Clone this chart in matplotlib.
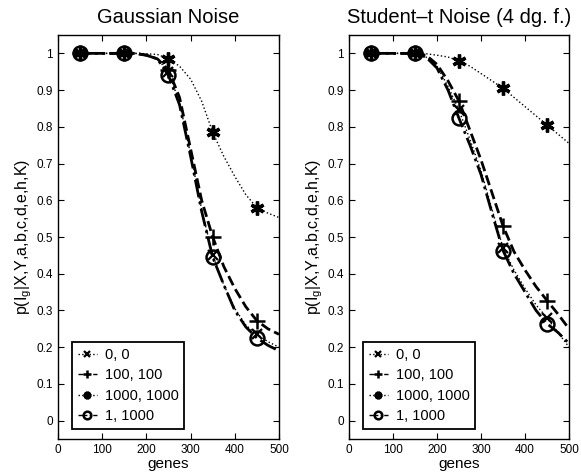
import numpy as np
import matplotlib
matplotlib.use("Agg")
import matplotlib.pyplot as plt

plt.rcParams['font.family'] = ['Liberation Sans', 'DejaVu Sans']
plt.rcParams['mathtext.fontset'] = 'custom'
plt.rcParams['mathtext.rm'] = 'Liberation Sans'

# number of genes (curve samples), markers every 100 genes starting at 50
genes = [50, 75, 100, 125, 150, 175, 200, 225, 250, 275, 300, 325, 350, 375, 400, 425, 450, 475, 500]

# Gaussian noise panel
gauss_0_0 = [1, 1, 1, 1, 1, 1, 0.995, 0.985, 0.95, 0.865, 0.725, 0.575, 0.45, 0.37, 0.305, 0.26, 0.235, 0.215, 0.2]
gauss_100_100 = [1, 1, 1, 1, 1, 1, 0.995, 0.985, 0.955, 0.88, 0.74, 0.6, 0.5, 0.42, 0.36, 0.31, 0.272, 0.25, 0.235]
gauss_1000_1000 = [1, 1, 1, 1, 1, 1, 0.999, 0.997, 0.985, 0.965, 0.93, 0.87, 0.785, 0.72, 0.665, 0.615, 0.58, 0.565, 0.553]
gauss_1_1000 = [1, 1, 1, 1, 1, 1, 0.995, 0.985, 0.94, 0.86, 0.72, 0.57, 0.445, 0.37, 0.3, 0.255, 0.225, 0.205, 0.19]

# Student-t noise panel
stud_0_0 = [1, 1, 1, 1, 1, 0.99, 0.965, 0.91, 0.845, 0.765, 0.68, 0.575, 0.47, 0.41, 0.36, 0.315, 0.28, 0.24, 0.2]
stud_100_100 = [1, 1, 1, 1, 1, 0.995, 0.97, 0.925, 0.87, 0.79, 0.71, 0.62, 0.53, 0.46, 0.41, 0.365, 0.327, 0.29, 0.25]
stud_1000_1000 = [1, 1, 1, 1, 1, 0.999, 0.995, 0.99, 0.98, 0.965, 0.945, 0.925, 0.905, 0.88, 0.855, 0.83, 0.805, 0.78, 0.755]
stud_1_1000 = [1, 1, 1, 1, 1, 0.99, 0.96, 0.9, 0.823, 0.75, 0.67, 0.565, 0.463, 0.4, 0.35, 0.3, 0.264, 0.24, 0.21]

legend_labels = ['0, 0', '100, 100', '1000, 1000', '1, 1000']
titles = ['Gaussian Noise', 'Student\u2013t Noise (4 dg. f.)']

asterisk = (6, 2, 0)
styles = [
    dict(ls=':', lw=1.0, marker='x', ms=7, mew=1.6),
    dict(ls='--', lw=2.0, marker='+', ms=11, mew=1.8),
    dict(ls=':', lw=1.0, marker=asterisk, ms=10, mew=2.4),
    dict(ls='-.', lw=2.0, marker='o', ms=10, mew=1.8, mfc='none'),
]

fig = plt.figure(figsize=(5.81, 4.75), dpi=100)
ax1 = fig.add_axes([0.0998, 0.0758, 0.3804, 0.8505])
ax2 = fig.add_axes([0.6007, 0.0758, 0.3787, 0.8505])

panels = [
    (ax1, [gauss_0_0, gauss_100_100, gauss_1000_1000, gauss_1_1000]),
    (ax2, [stud_0_0, stud_100_100, stud_1000_1000, stud_1_1000]),
]

for i, (ax, series) in enumerate(panels):
    for vals, st, lab in zip(series, styles, legend_labels):
        ax.plot(genes, vals, color='black', label=lab, markevery=slice(0, None, 4), **st)
    ax.set_xlim(0, 500)
    ax.set_ylim(-0.05, 1.05)
    ax.set_xticks(np.arange(0, 501, 100))
    yt = np.round(np.arange(0, 1.01, 0.1), 1)
    ax.set_yticks(yt)
    ax.set_yticklabels(['0'] + ['%.1f' % v for v in yt[1:-1]] + ['1'])
    ax.tick_params(direction='in', top=True, right=True, labelsize=8.5, length=4, width=0.8)
    for sp in ax.spines.values():
        sp.set_linewidth(1.0)
    ax.set_title(titles[i], fontsize=14.5, pad=9)
    ax.set_xlabel('genes', fontsize=11, labelpad=1)
    ax.set_ylabel(r'p(I$_{\mathregular{g}}$|X,Y,a,b,c,d,e,h,K)', fontsize=11.5, labelpad=2)
    leg = ax.legend(loc='lower left', bbox_to_anchor=(0.063, 0.024), borderaxespad=0, fontsize=10.5,
                    handlelength=1.3, handletextpad=0.55, borderpad=0.4, labelspacing=0.45,
                    fancybox=False, framealpha=1, edgecolor='black', markerscale=0.55)
    leg.get_frame().set_linewidth(1.3)
    for h in leg.get_lines():
        h.set_linewidth(1.0)

fig.savefig('out.png', dpi=100)
